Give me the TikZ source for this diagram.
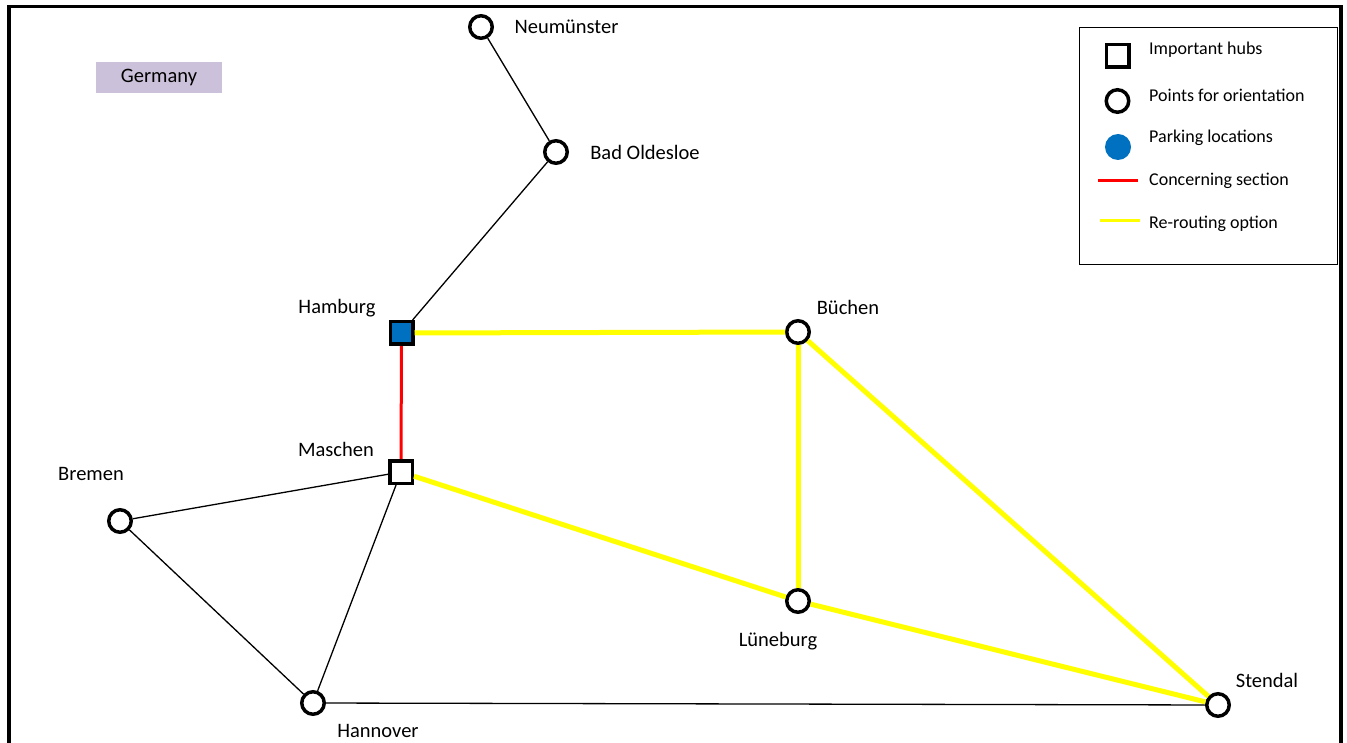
\documentclass[tikz,border=0pt]{standalone}
\usepackage{fontspec}
\setmainfont{Carlito}
\usepackage{xcolor}
\definecolor{hubblue}{HTML}{0070C0}
\definecolor{lilac}{HTML}{CCC1DA}
\definecolor{detouryellow}{HTML}{FFFF00}
\definecolor{alertred}{HTML}{FF0000}

\tikzset{
  town/.style={circle, draw, line width=3.5pt, fill=white, minimum size=22.5pt, inner sep=0pt},
  hub/.style={rectangle, draw, line width=3.5pt, fill=white, minimum size=22.5pt, inner sep=0pt},
  place/.style={font=\fontsize{20.5}{22}\selectfont, inner sep=0pt},
  legendtext/.style={font=\fontsize{18}{20}\selectfont, anchor=west, inner sep=0pt},
  road/.style={line width=1.3pt},
  detour/.style={line width=5pt, detouryellow},
  concern/.style={line width=3pt, alertred}
}

\begin{document}
\begin{tikzpicture}[x=1pt, y=-1pt]
  \useasboundingbox (0,0) rectangle (1347,743);
  % frame, open at the bottom
  \draw[line width=3.5pt] (9,743) -- (9,6.5) -- (1341,6.5) -- (1341,743);

  % country tag
  \node[fill=lilac, minimum width=126pt, minimum height=31pt, inner sep=0pt,
        font=\fontsize{20.5}{22}\selectfont] (country) at (159,77.5) {Germany};

  % towns and hubs
  \node[town] (neumuenster) at (481,27) {};
  \node[town] (oldesloe) at (556,152) {};
  \node[hub, fill=hubblue] (hamburg) at (401.5,333) {};
  \node[town] (buechen) at (798,332) {};
  \node[hub] (maschen) at (401,472) {};
  \node[town] (bremen) at (120,521) {};
  \node[town] (lueneburg) at (798,601) {};
  \node[town] (hannover) at (313,703) {};
  \node[town] (stendal) at (1218,705) {};

  % names
  \node[place] (neumuenster-name) at (566.5,27) {Neumünster};
  \node[place] (oldesloe-name) at (645,152) {Bad Oldesloe};
  \node[place] (hamburg-name) at (337,308) {Hamburg};
  \node[place] (buechen-name) at (848,307) {Büchen};
  \node[place] (maschen-name) at (336,449) {Maschen};
  \node[place] (bremen-name) at (91,474) {Bremen};
  \node[place] (lueneburg-name) at (778,641) {Lüneburg};
  \node[place] (hannover-name) at (378,731) {Hannover};
  \node[place] (stendal-name) at (1267,680) {Stendal};

  % network
  \draw[road] (neumuenster) -- (oldesloe);
  \draw[road] (oldesloe) -- (hamburg);
  \draw[road] (bremen) -- (maschen);
  \draw[road] (bremen) -- (hannover);
  \draw[road] (maschen) -- (hannover);
  \draw[road] (hannover) -- (stendal);
  \draw[concern] (hamburg) -- (maschen);
  \draw[detour] (hamburg) -- (buechen);
  \draw[detour] (buechen) -- (lueneburg);
  \draw[detour] (buechen) -- (stendal);
  \draw[detour] (maschen) -- (lueneburg);
  \draw[detour] (lueneburg) -- (stendal);

  % legend
  \node[draw, line width=1pt, minimum width=258pt, minimum height=237pt, inner sep=0pt] (legend) at (1208,146.5) {};
  \node[hub] (key-hub) at (1117.5,56) {};
  \node[town] (key-town) at (1117.5,101) {};
  \node[circle, fill=hubblue, minimum size=26pt, inner sep=0pt] (key-park) at (1118,147) {};
  \coordinate (key-red-a) at (1098,181);
  \coordinate (key-red-b) at (1138,181);
  \coordinate (key-yel-a) at (1100,221);
  \coordinate (key-yel-b) at (1140,221);
  \draw[concern] (key-red-a) -- (key-red-b);
  \draw[detour, line width=3pt] (key-yel-a) -- (key-yel-b);
  \node[legendtext] (key-hub-text) at (1149,50) {Important hubs};
  \node[legendtext] (key-town-text) at (1149,95) {Points for orientation};
  \node[legendtext] (key-park-text) at (1149,138) {Parking locations};
  \node[legendtext] (key-red-text) at (1149,181) {Concerning section};
  \node[legendtext] (key-yel-text) at (1149,224) {Re-routing option};
\end{tikzpicture}
\end{document}
